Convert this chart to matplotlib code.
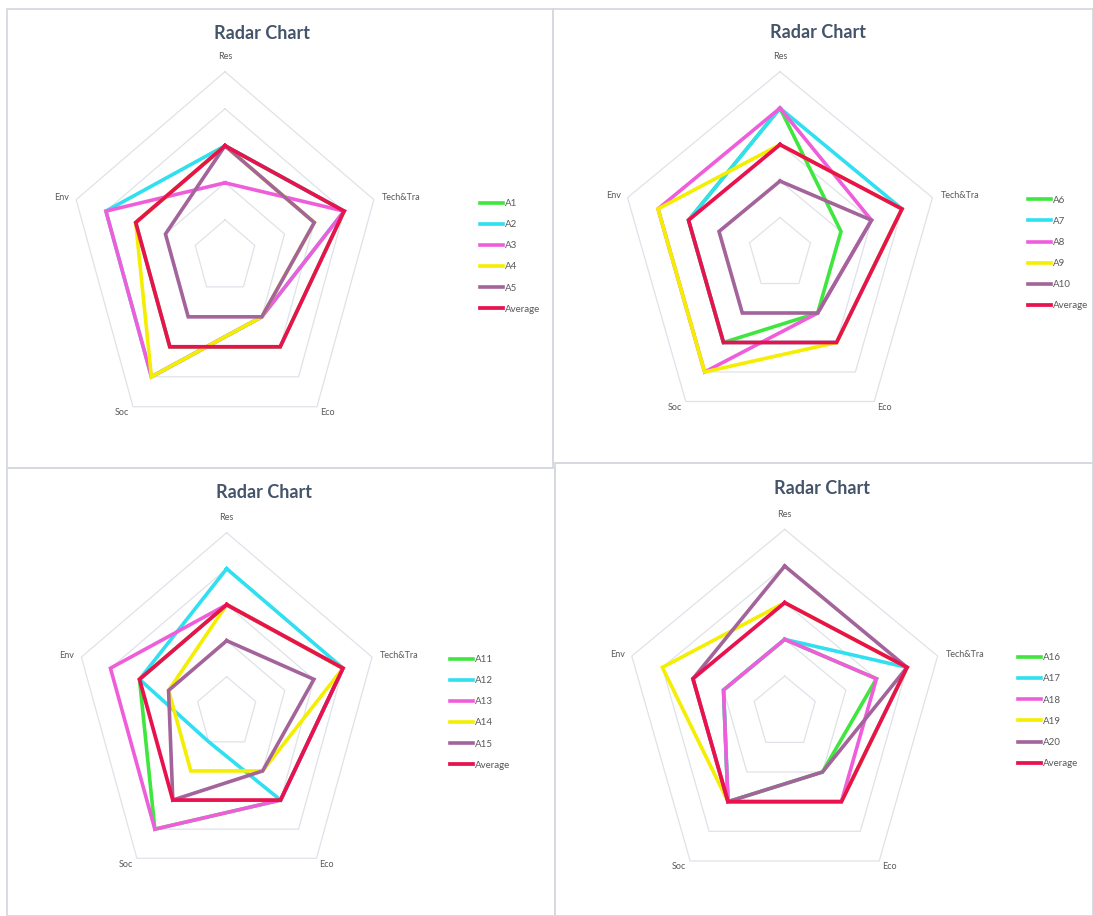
import numpy as np
import matplotlib
matplotlib.use("Agg")
import matplotlib.pyplot as plt
from matplotlib.patches import Rectangle

# criteria scores (0-5) for each alternative, clockwise from the top axis
categories = ["Res", "Tech&Tra", "Eco", "Soc", "Env"]

a1 = [3, 4, 3, 3, 3]
a2 = [3, 4, 2, 4, 4]
a3 = [2, 4, 2, 4, 4]
a4 = [3, 3, 2, 4, 3]
a5 = [3, 3, 2, 2, 2]

a6 = [4, 2, 2, 3, 3]
a7 = [4, 4, 3, 3, 3]
a8 = [4, 3, 2, 4, 4]
a9 = [3, 4, 3, 4, 4]
a10 = [2, 3, 2, 2, 2]

a11 = [3, 4, 3, 4, 3]
a12 = [4, 4, 3, 1, 3]
a13 = [3, 4, 3, 4, 4]
a14 = [3, 4, 2, 2, 2]
a15 = [2, 3, 2, 3, 2]

a16 = [2, 3, 2, 3, 2]
a17 = [2, 4, 3, 3, 2]
a18 = [2, 3, 3, 3, 2]
a19 = [3, 4, 3, 3, 4]
a20 = [4, 4, 2, 3, 3]

average = [3, 4, 3, 3, 3]

groups = [
    (["A1", "A2", "A3", "A4", "A5"], [a1, a2, a3, a4, a5]),
    (["A6", "A7", "A8", "A9", "A10"], [a6, a7, a8, a9, a10]),
    (["A11", "A12", "A13", "A14", "A15"], [a11, a12, a13, a14, a15]),
    (["A16", "A17", "A18", "A19", "A20"], [a16, a17, a18, a19, a20]),
]
rings = [1, 2, 3, 4, 5]

colors = ["#3ee63e", "#30dff0", "#ef5ddb", "#f4ee00", "#a3639b"]
avg_color = "#e8124f"
grid_color = "#dfe2e8"
label_color = "#595959"
title_color = "#44546a"

W, H = 1093, 916
fig = plt.figure(figsize=(W / 100, H / 100), dpi=100)
fig.patch.set_facecolor("white")


def fx(x):
    return x / W


def fy(y):
    return 1 - y / H


# chart frames (px): left, top, right, bottom
frames = [(7, 9, 553, 468), (553, 9, 1093, 463),
          (7, 468, 555, 916), (555, 463, 1093, 916)]
for l, t, r, b in frames:
    fig.patches.append(Rectangle((fx(l), fy(b)), fx(r - l), (b - t) / H,
                                 transform=fig.transFigure, fill=False,
                                 edgecolor="#d6d9df", lw=1.3, zorder=0))

# plot area (center x, center y, horizontal radius, vertical radius) in px
areas = [(225, 256.9, 156.5, 185.2), (780, 254, 160.3, 182.3),
         (226.7, 712.7, 152.8, 180), (784.7, 712.7, 160.8, 183.3)]
titles_at = [(262.5, 33.3), (818.3, 32.3), (263.7, 492.3), (822, 489)]
legends_at = [(480, 204), (1028, 200.7), (450, 660), (1018, 658.3)]

theta = np.linspace(0, 2 * np.pi, len(categories), endpoint=False)
theta_c = np.append(theta, theta[0])

label_offsets = [((0, 15), "center", "center"),
                 ((8, 2), "left", "center"),
                 ((3, -6), "left", "center"),
                 ((-4, -6), "right", "center"),
                 ((-7, 2), "right", "center")]

for (names, series), (cx, cy, rx, ry), (tx, ty), (lx, ly) in zip(
        groups, areas, titles_at, legends_at):
    ax = fig.add_axes([fx(cx - rx), fy(cy + ry), 2 * rx / W, 2 * ry / H],
                      projection="polar")
    ax.set_aspect("auto")
    ax.set_theta_offset(np.pi / 2)
    ax.set_theta_direction(-1)
    ax.set_ylim(0, 5)
    ax.set_xticks([])
    ax.set_yticks([])
    ax.grid(False)
    ax.spines["polar"].set_visible(False)
    ax.patch.set_alpha(0)

    for lev in rings:
        ax.plot(theta_c, [lev] * len(theta_c), color=grid_color, lw=0.9,
                zorder=1, clip_on=False)

    handles = []
    for name, vals, c in zip(names, series, colors):
        v = np.append(vals, vals[0])
        ln, = ax.plot(theta_c, v, color=c, lw=2.6, label=name, zorder=3,
                      clip_on=False, solid_joinstyle="miter")
        handles.append(ln)
    v = np.append(average, average[0])
    ln, = ax.plot(theta_c, v, color=avg_color, lw=2.7, label="Average",
                  zorder=4, clip_on=False, solid_joinstyle="miter")
    handles.append(ln)

    for th, lab, (off, ha, va) in zip(theta, categories, label_offsets):
        ax.annotate(lab, xy=(th, 5), xytext=off, textcoords="offset pixels",
                    ha=ha, va=va, fontsize=6.5, color=label_color,
                    family="Lato", annotation_clip=False)

    fig.text(fx(tx), fy(ty), "Radar Chart", ha="center", va="center",
             fontsize=13, fontweight="bold", color=title_color, family="Lato")

    leg = ax.legend(handles=handles, loc="upper left",
                    bbox_to_anchor=(fx(lx), fy(ly - 5)),
                    bbox_transform=fig.transFigure, frameon=False,
                    borderpad=0, borderaxespad=0, handlelength=2.4,
                    handletextpad=0.15, labelspacing=1.25,
                    prop={"family": "Lato", "size": 7})
    for t in leg.get_texts():
        t.set_color(label_color)

fig.savefig("out.png", dpi=100, facecolor="white")
